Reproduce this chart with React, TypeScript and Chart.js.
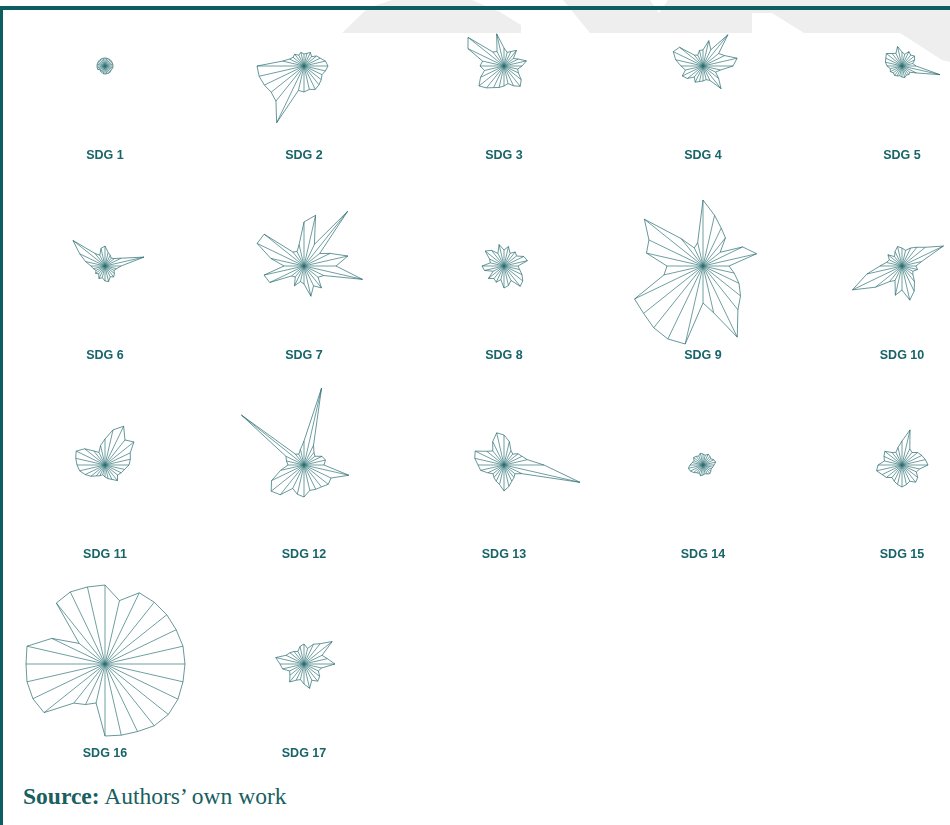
import React, { useEffect, useRef } from "react";
import { Chart, registerables } from "chart.js";

Chart.register(...registerables);

// ---- DATA ----
const categories = [
  "1", "2", "3", "4", "5", "6", "7", "8", "9", "10", "11", "12", "13", "14",
  "15", "16", "17", "18", "19", "20", "21", "22", "23", "24", "25", "26", "27", "28",
];

const sdgTitles = [
  "SDG 1", "SDG 2", "SDG 3", "SDG 4", "SDG 5", "SDG 6", "SDG 7", "SDG 8", "SDG 9",
  "SDG 10", "SDG 11", "SDG 12", "SDG 13", "SDG 14", "SDG 15", "SDG 16", "SDG 17",
];

const sdg1 = [8, 8, 8, 8, 8, 8, 8, 8, 8, 7.5, 7.5, 8, 8, 8, 8, 8, 7, 7, 6, 8, 8, 8, 8, 8, 8, 8, 8, 8];
const sdg2 = [12, 13, 15, 12, 16, 18, 22, 24, 22, 20, 22, 24, 26, 24, 26, 25, 63, 45, 42, 44, 46, 47, 22, 16, 14, 15, 12, 14];
const sdg3 = [18, 14, 16, 20, 12, 16, 23, 18, 14, 16, 22, 26, 22, 18, 20, 22, 24, 28, 32, 26, 20, 24, 22, 40, 46, 18, 16, 33];
const sdg4 = [16, 26, 18, 40, 20, 24, 35, 30, 18, 14, 20, 29, 16, 14, 15, 16, 18, 14, 20, 23, 18, 22, 28, 33, 30, 14, 12, 16];
const sdg5 = [14, 12, 16, 14, 16, 14, 11, 14, 39, 16, 10, 11, 10, 12, 11, 10, 11, 12, 11, 13, 12, 15, 17, 18, 20, 16, 14, 20];
const sdg6 = [20, 14, 12, 10, 12, 18, 40, 16, 12, 10, 12, 14, 12, 16, 15, 12, 14, 10, 12, 10, 12, 14, 20, 28, 41, 16, 12, 18];
const sdg7 = [44, 52, 24, 70, 20, 29, 45, 32, 60, 22, 18, 28, 22, 31, 18, 16, 22, 14, 16, 38, 41, 20, 34, 52, 51, 18, 16, 22];
const sdg8 = [16, 20, 14, 18, 16, 22, 24, 14, 16, 20, 24, 26, 16, 20, 22, 14, 18, 16, 20, 12, 20, 22, 14, 16, 24, 20, 14, 22];
const sdg9 = [66, 52, 42, 36, 22, 44, 55, 26, 32, 40, 48, 56, 79, 48, 37, 80, 81, 79, 76, 76, 40, 36, 58, 60, 75, 35, 20, 24];
const sdg10 = [18, 16, 20, 24, 30, 46, 20, 14, 16, 12, 14, 20, 28, 35, 24, 30, 16, 20, 34, 55, 36, 22, 16, 14, 18, 12, 16, 20];
const sdg11 = [26, 36, 43, 32, 37, 28, 26, 24, 20, 18, 16, 20, 16, 14, 12, 10, 12, 14, 18, 22, 26, 28, 30, 32, 26, 18, 14, 20];
const sdg12 = [24, 79, 22, 16, 14, 20, 22, 20, 46, 30, 31, 28, 27, 26, 32, 30, 26, 38, 42, 36, 24, 16, 18, 20, 80, 14, 12, 16];
const sdg13 = [30, 24, 16, 14, 18, 20, 24, 40, 78, 20, 14, 16, 18, 22, 26, 20, 18, 16, 14, 18, 24, 26, 30, 32, 22, 18, 26, 33];
const sdg14 = [11, 10, 12, 11, 10, 12, 13, 11, 10, 9, 10, 11, 10, 9, 10, 11, 9, 10, 12, 14, 15, 13, 11, 10, 12, 11, 10, 12];
const sdg15 = [24, 36, 18, 16, 20, 22, 24, 26, 18, 16, 20, 22, 18, 20, 22, 20, 18, 16, 20, 22, 26, 24, 18, 20, 22, 16, 14, 18];
const sdg16 = [79, 65, 79, 79, 79, 79, 80, 80, 80, 81, 81, 79, 75, 73, 72, 40, 45, 50, 78, 80, 80, 79, 80, 59, 33, 78, 80, 79];
const sdg17 = [20, 16, 22, 26, 36, 20, 24, 31, 18, 16, 20, 22, 18, 25, 20, 16, 18, 23, 18, 16, 22, 24, 29, 20, 18, 16, 14, 18];

const seriesList = [
  sdg1, sdg2, sdg3, sdg4, sdg5, sdg6, sdg7, sdg8, sdg9,
  sdg10, sdg11, sdg12, sdg13, sdg14, sdg15, sdg16, sdg17,
];

const R_MAX = 90;

// ---- LAYOUT / STYLE ----
const COL_X = [105, 304, 504, 703, 902];
const ROW_Y = [66, 266, 465, 664];
const CANVAS = 180;
const LINE = "rgba(45,112,116,0.8)";
const TEAL_TEXT = "#176469";
const FRAME = "#0c5e62";

const spokePlugin = {
  id: "spokes",
  beforeDatasetsDraw(chart: any) {
    const scale = chart.scales.r;
    const meta = chart.getDatasetMeta(0);
    const ctx = chart.ctx;
    ctx.save();
    ctx.strokeStyle = LINE;
    ctx.lineWidth = 0.85;
    meta.data.forEach((pt: any) => {
      ctx.beginPath();
      ctx.moveTo(scale.xCenter, scale.yCenter);
      ctx.lineTo(pt.x, pt.y);
      ctx.stroke();
    });
    ctx.restore();
  },
};

function SmallRadar({ values, cx, cy, title }: { values: number[]; cx: number; cy: number; title: string }) {
  const ref = useRef<HTMLCanvasElement | null>(null);
  useEffect(() => {
    if (!ref.current) return;
    const chart = new Chart(ref.current, {
      type: "radar",
      data: {
        labels: categories,
        datasets: [
          {
            data: values,
            borderColor: LINE,
            borderWidth: 0.9,
            fill: false,
            pointRadius: 0,
            pointHoverRadius: 0,
            tension: 0,
            clip: false as any,
          } as any,
        ],
      },
      options: {
        animation: false,
        responsive: false,
        maintainAspectRatio: false,
        events: [],
        layout: { padding: 0 },
        plugins: {
          legend: { display: false },
          tooltip: { enabled: false },
          title: { display: false },
        },
        scales: {
          r: {
            min: 0,
            max: R_MAX,
            grid: { display: false },
            angleLines: { display: false },
            ticks: { display: false },
            pointLabels: { display: false },
          },
        },
      } as any,
      plugins: [spokePlugin],
    });
    return () => chart.destroy();
  }, [values]);

  return (
    <>
      <canvas
        ref={ref}
        width={CANVAS}
        height={CANVAS}
        style={{
          position: "absolute",
          left: cx - CANVAS / 2,
          top: cy - CANVAS / 2,
          width: CANVAS,
          height: CANVAS,
        }}
      />
      <div
        style={{
          position: "absolute",
          left: cx - 60,
          top: cy + 83,
          width: 120,
          textAlign: "center",
          fontFamily: "'Liberation Sans', Arial, sans-serif",
          fontWeight: 700,
          fontSize: 12.5,
          lineHeight: "12.5px",
          color: TEAL_TEXT,
          zIndex: 2,
        }}
      >
        {title}
      </div>
    </>
  );
}

export default function App() {
  return (
    <div
      style={{
        position: "absolute",
        left: 0,
        top: 0,
        width: 950,
        height: 825,
        overflow: "hidden",
        background: "#ffffff",
      }}
    >
      <svg width={950} height={70} style={{ position: "absolute", left: 0, top: 0 }}>
        <polygon points="342,33 368,8 392,0 472,0 500,12 521,25 521,33" fill="#eeeeee" />
        <polygon
          points="563,0 650,0 659,13 668,0 950,0 950,62 942,60 900,33 804,33 772,13 752,13 752,33 590,33"
          fill="#eeeeee"
        />
      </svg>
      <div style={{ position: "absolute", left: 0, top: 6, width: 950, height: 4, background: FRAME }} />
      <div style={{ position: "absolute", left: 0, top: 6, width: 3, height: 819, background: FRAME }} />
      {seriesList.map((vals, i) => (
        <SmallRadar
          key={i}
          values={vals}
          cx={COL_X[i % 5]}
          cy={ROW_Y[Math.floor(i / 5)]}
          title={sdgTitles[i]}
        />
      ))}
      <div
        style={{
          position: "absolute",
          left: 23,
          top: 785,
          fontFamily: "'Liberation Serif', 'Times New Roman', serif",
          fontSize: 23.5,
          lineHeight: "23.5px",
          color: "#17605f",
          whiteSpace: "nowrap",
        }}
      >
        <b>Source:</b> Authors’ own work
      </div>
    </div>
  );
}
